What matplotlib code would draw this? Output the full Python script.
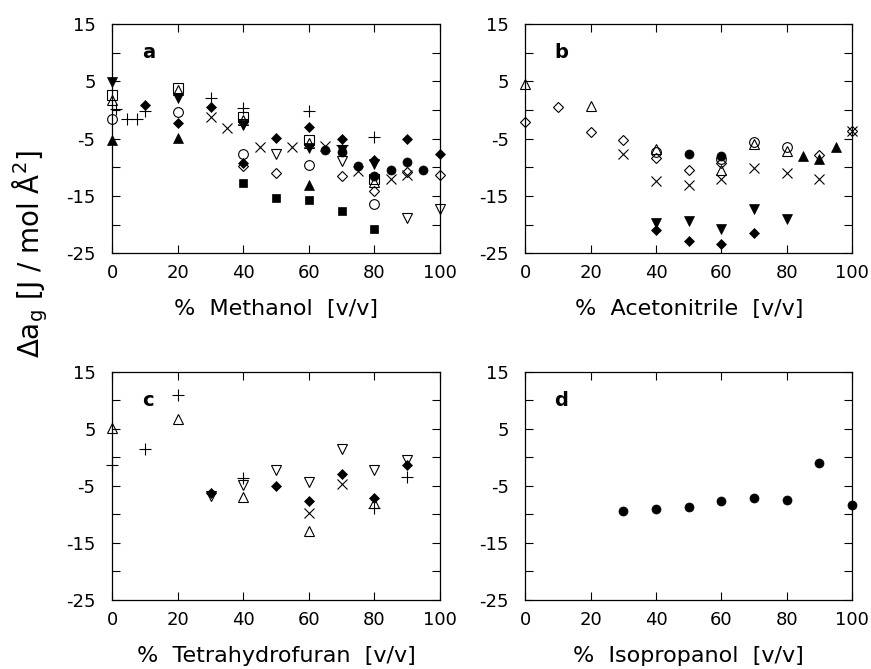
import matplotlib
matplotlib.use('Agg')
import matplotlib.pyplot as plt

plt.rcParams['font.family'] = ['DejaVu Sans']
plt.rcParams['axes.unicode_minus'] = False

# ---- data: (% organic modifier, delta a_g) ----
# a: methanol
meoh_circle = ([65, 70, 75, 80, 85, 90, 95], [-6.9, -7.4, -9.8, -11.5, -10.4, -9.0, -10.5])
meoh_diamond = ([10, 20, 30, 40, 50, 60, 70, 80, 90, 100],
                [0.9, -2.3, 0.6, -9.2, -4.9, -2.9, -5.1, -8.8, -5.1, -7.6])
meoh_square = ([40, 50, 60, 70, 80], [-12.7, -15.3, -15.7, -17.7, -20.8])
meoh_tri_up = ([0, 20, 60], [-5.2, -4.8, -13.1])
meoh_tri_down = ([0, 20, 40, 60, 70, 80], [4.8, 2.1, -2.7, -6.7, -7.0, -9.4])
meoh_open_circle = ([0, 20, 40, 60, 80], [-1.5, -0.3, -7.6, -9.6, -16.4])
meoh_open_square = ([0, 20, 40, 60, 80], [2.7, 3.8, -1.2, -5.3, -12.1])
meoh_open_tri_up = ([0, 20, 40, 60, 80], [1.7, 3.5, -1.8, -5.8, -12.6])
meoh_open_diamond = ([40, 50, 70, 80, 90, 100], [-9.8, -11.0, -11.5, -14.2, -10.9, -11.3])
meoh_open_tri_down = ([40, 50, 70, 90, 100], [-2.4, -7.6, -8.9, -18.9, -17.3])
meoh_plus = ([1, 4.5, 7.5, 10, 30, 40, 60, 70, 80], [0.2, -1.5, -1.5, -0.2, 2.1, 0.4, -0.2, -6.1, -4.7])
meoh_cross = ([30, 35, 45, 55, 65, 75, 85, 90], [-1.3, -3.1, -6.4, -6.5, -6.3, -10.6, -12.1, -11.3])

# b: acetonitrile
acn_open_tri_up = ([0, 20, 40, 60, 70, 80], [4.5, 0.7, -6.8, -10.4, -6.0, -7.1])
acn_open_diamond = ([0, 10, 20, 30, 40, 50, 60, 90, 100],
                    [-2.1, 0.6, -3.8, -5.2, -8.4, -10.4, -9.2, -7.8, -3.6])
acn_open_circle = ([40, 60, 70, 80], [-7.4, -8.6, -5.5, -6.5])
acn_circle = ([50, 60], [-7.7, -8.1])
acn_cross = ([30, 40, 50, 60, 70, 80, 90, 100], [-7.6, -12.4, -13.1, -12.1, -10.2, -11.0, -12.1, -3.6])
acn_tri_down = ([40, 50, 60, 70, 80], [-19.8, -19.4, -20.8, -17.3, -19.0])
acn_diamond = ([40, 50, 60, 70], [-21.0, -22.8, -23.3, -21.4])
acn_tri_up = ([85, 90, 95], [-8.1, -8.5, -6.5])

# c: tetrahydrofuran
thf_open_tri_up = ([0, 20, 40, 60, 80], [5.1, 6.7, -7.0, -12.9, -8.0])
thf_plus = ([0, 10, 20, 40, 80, 90], [-1.3, 1.4, 10.9, -3.6, -8.9, -3.4])
thf_diamond = ([30, 50, 60, 70, 80, 90], [-6.2, -5.0, -7.7, -2.9, -7.1, -1.3])
thf_open_tri_down = ([30, 40, 50, 60, 70, 80, 90], [-6.7, -4.9, -2.3, -4.4, 1.5, -2.3, -0.5])
thf_cross = ([60, 70], [-9.8, -4.6])

# d: isopropanol
ipa_circle = ([30, 40, 50, 60, 70, 80, 90, 100], [-9.4, -9.1, -8.7, -7.6, -7.1, -7.4, -1.0, -8.4])

x_ticks = [0, 20, 40, 60, 80, 100]
y_major = [15, 5, -5, -15, -25]
y_minor = [10, 0, -10, -20]

# marker, filled, size
styles = {
    'circle': ('o', True, 6.5),
    'open_circle': ('o', False, 7),
    'square': ('s', True, 6),
    'open_square': ('s', False, 6.5),
    'diamond': ('D', True, 5.2),
    'open_diamond': ('D', False, 5.5),
    'tri_up': ('^', True, 6.5),
    'open_tri_up': ('^', False, 6.5),
    'tri_down': ('v', True, 6.5),
    'open_tri_down': ('v', False, 6.5),
    'plus': ('+', None, 8),
    'cross': ('x', None, 7.5),
}


def draw(ax, style, xy):
    marker, filled, size = styles[style]
    kw = dict(marker=marker, markersize=size, linestyle='None', color='black', clip_on=False)
    if filled is False:
        kw.update(markerfacecolor='none', markeredgewidth=0.8)
    elif filled is None:
        kw.update(markeredgewidth=0.8)
    else:
        kw.update(markeredgewidth=0.5)
    ax.plot(xy[0], xy[1], **kw)


def setup(ax, xlabel, letter):
    ax.set_xlim(0, 100)
    ax.set_ylim(-25, 15)
    ax.set_xticks(x_ticks)
    ax.set_yticks(y_major)
    ax.set_yticks(y_minor, minor=True)
    ax.set_yticklabels([str(v) for v in y_major])
    ax.tick_params(which='both', direction='in', top=True, right=True,
                   length=6, width=0.8, labelsize=13)
    ax.tick_params(axis='y', pad=12)
    ax.tick_params(axis='x', pad=8)
    for s in ax.spines.values():
        s.set_linewidth(0.9)
    ax.set_xlabel(xlabel, fontsize=16, labelpad=12)
    ax.text(11, 10, letter, fontsize=14, fontweight='bold', ha='center', va='center')


fig = plt.figure(figsize=(8.71, 6.69), dpi=100)
ax_a = fig.add_axes([0.1289, 0.6214, 0.376, 0.3427])
ax_b = fig.add_axes([0.6032, 0.6214, 0.375, 0.3427])
ax_c = fig.add_axes([0.1289, 0.1034, 0.376, 0.3408])
ax_d = fig.add_axes([0.6032, 0.1034, 0.375, 0.3408])

setup(ax_a, '%  Methanol  [v/v]', 'a')
setup(ax_b, '%  Acetonitrile  [v/v]', 'b')
setup(ax_c, '%  Tetrahydrofuran  [v/v]', 'c')
setup(ax_d, '%  Isopropanol  [v/v]', 'd')

# methanol
draw(ax_a, 'square', meoh_square)
draw(ax_a, 'tri_up', meoh_tri_up)
draw(ax_a, 'tri_down', meoh_tri_down)
draw(ax_a, 'diamond', meoh_diamond)
draw(ax_a, 'circle', meoh_circle)
draw(ax_a, 'open_circle', meoh_open_circle)
draw(ax_a, 'open_square', meoh_open_square)
draw(ax_a, 'open_tri_up', meoh_open_tri_up)
draw(ax_a, 'open_diamond', meoh_open_diamond)
draw(ax_a, 'open_tri_down', meoh_open_tri_down)
draw(ax_a, 'plus', meoh_plus)
draw(ax_a, 'cross', meoh_cross)

# acetonitrile
draw(ax_b, 'open_tri_up', acn_open_tri_up)
draw(ax_b, 'open_diamond', acn_open_diamond)
draw(ax_b, 'open_circle', acn_open_circle)
draw(ax_b, 'circle', acn_circle)
draw(ax_b, 'cross', acn_cross)
draw(ax_b, 'tri_down', acn_tri_down)
draw(ax_b, 'diamond', acn_diamond)
draw(ax_b, 'tri_up', acn_tri_up)

# tetrahydrofuran
draw(ax_c, 'open_tri_up', thf_open_tri_up)
draw(ax_c, 'plus', thf_plus)
draw(ax_c, 'diamond', thf_diamond)
draw(ax_c, 'open_tri_down', thf_open_tri_down)
draw(ax_c, 'cross', thf_cross)

# isopropanol
draw(ax_d, 'circle', ipa_circle)

fig.text(0.035, 0.62, r'$\Delta$a$_\mathregular{g}$ [J / mol Å$^\mathregular{2}$]',
         rotation=90, fontsize=20, ha='center', va='center')

fig.savefig('out.png', dpi=100)
